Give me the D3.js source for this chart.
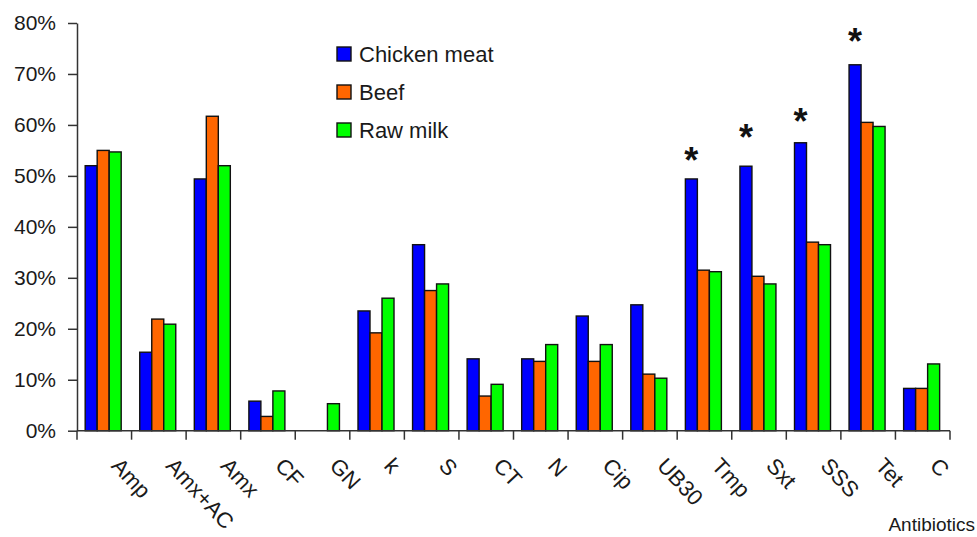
<!DOCTYPE html>
<html>
<head>
<meta charset="utf-8">
<script src="https://cdn.jsdelivr.net/npm/d3@7"></script>
<style>
  body { margin: 0; background: #fff; }
  svg { display: block; font-family: "Liberation Sans", Arial, sans-serif; }
</style>
</head>
<body>
<div id="vizcontainer"></div>
<script>
const categories = ['Amp', 'Amx+AC', 'Amx', 'CF', 'GN', 'k', 'S', 'CT', 'N', 'Cip', 'UB30', 'Tmp', 'Sxt', 'SSS', 'Tet', 'C'];
const series = ['Chicken meat', 'Beef', 'Raw milk'];
const chicken = [52.0, 15.4, 49.4, 5.8, 0, 23.5, 36.5, 14.1, 14.1, 22.5, 24.7, 49.4, 51.9, 56.5, 71.8, 8.3];
const beef    = [55.0, 21.9, 61.7, 2.8, 0, 19.2, 27.5, 6.8, 13.6, 13.6, 11.1, 31.5, 30.3, 37.0, 60.5, 8.3];
const rawMilk = [54.7, 20.9, 52.0, 7.8, 5.3, 26.0, 28.8, 9.1, 16.9, 16.9, 10.3, 31.2, 28.8, 36.5, 59.7, 13.1];
const yTicks = [0, 10, 20, 30, 40, 50, 60, 70, 80];
// asterisks over chicken meat bars, level of the mark in %
const starCats = ['Tmp', 'Sxt', 'SSS', 'Tet'];
const starLevels = [54.5, 59.2, 62.2, 77.9];

const
  W = 977, H = 537,
  colors = ['#0000FF', '#FF6600', '#00FF00'],
  plot = { left: 77, right: 950, top: 23, bottom: 430.7 }
  ;

const svg = d3.select('#vizcontainer')
  .append('svg')
  .attr('width', W)
  .attr('height', H);

const x = d3.scaleBand()
  .domain(categories)
  .range([plot.left, plot.right])
  .padding(0);

const xSub = d3.scaleBand()
  .domain(series)
  .range([x.bandwidth() * 0.15, x.bandwidth() * 0.81])
  .padding(0);

const y = d3.scaleLinear()
  .domain([0, 80])
  .range([plot.bottom, plot.top]);

const values = [chicken, beef, rawMilk];
const data = categories.map((c, i) => ({
  cat: c,
  vals: series.map((s, j) => ({ key: s, value: values[j][i], idx: j }))
}));

// bars
svg.append('g')
  .selectAll('g')
  .data(data)
  .join('g')
  .attr('transform', d => `translate(${x(d.cat)},0)`)
  .selectAll('rect')
  .data(d => d.vals.filter(v => v.value > 0))
  .join('rect')
  .attr('x', d => xSub(d.key))
  .attr('y', d => y(d.value))
  .attr('width', xSub.bandwidth())
  .attr('height', d => y(0) - y(d.value))
  .attr('fill', d => colors[d.idx])
  .attr('stroke', '#111')
  .attr('stroke-width', 1.4);

// y axis
const yAxis = svg.append('g')
  .attr('transform', `translate(${plot.left},0)`)
  .call(d3.axisLeft(y).tickValues(yTicks).tickFormat(d => d + '%').tickSize(9).tickSizeOuter(0).tickPadding(12));
yAxis.selectAll('text')
  .attr('font-size', '21px')
  .attr('font-family', '"Liberation Sans", Arial, sans-serif')
  .attr('fill', '#1a1a1a');
yAxis.selectAll('line, path').attr('stroke', '#333').attr('stroke-width', 1.5);

// x axis: baseline plus ticks at band boundaries
const xAxis = svg.append('g');
xAxis.append('line')
  .attr('x1', x.range()[0]).attr('x2', x.range()[1])
  .attr('y1', y(0)).attr('y2', y(0))
  .attr('stroke', '#333').attr('stroke-width', 1.5);
xAxis.selectAll('.tk')
  .data(categories.map(c => x(c)).concat([x.range()[1]]))
  .join('line')
  .attr('class', 'tk')
  .attr('x1', d => d).attr('x2', d => d)
  .attr('y1', y(0)).attr('y2', y(0) + 9)
  .attr('stroke', '#333').attr('stroke-width', 1.5);

xAxis.selectAll('.lbl')
  .data(categories)
  .join('text')
  .attr('class', 'lbl')
  .attr('transform', d => `translate(${x(d) + x.bandwidth() / 2 + 6},${y(0) + 36}) rotate(47)`)
  .attr('text-anchor', 'start')
  .attr('font-size', '22px')
  .attr('fill', '#1a1a1a')
  .text(d => d);

svg.append('text')
  .attr('x', 975)
  .attr('y', 531)
  .attr('text-anchor', 'end')
  .attr('font-size', '19px')
  .attr('fill', '#1a1a1a')
  .text('Antibiotics');

// asterisks
const starFs = 36;
svg.append('g')
  .selectAll('text')
  .data(starCats.map((c, i) => ({ cat: c, level: starLevels[i] })))
  .join('text')
  .attr('x', d => x(d.cat) + xSub(series[0]) + xSub.bandwidth() / 2)
  .attr('y', d => y(d.level) + 0.57 * starFs)
  .attr('text-anchor', 'middle')
  .attr('font-size', starFs + 'px')
  .attr('font-weight', 'bold')
  .attr('fill', '#111')
  .text('*');

// legend
const legend = svg.append('g')
  .selectAll('g')
  .data(series)
  .join('g')
  .attr('transform', (d, i) => `translate(337,${54 + i * 38})`);
legend.append('rect')
  .attr('x', 0).attr('y', -7)
  .attr('width', 14).attr('height', 14)
  .attr('fill', (d, i) => colors[i])
  .attr('stroke', '#111').attr('stroke-width', 1.4);
legend.append('text')
  .attr('x', 22).attr('y', 8)
  .attr('font-size', '22px')
  .attr('fill', '#1a1a1a')
  .text(d => d);
</script>
</body>
</html>
